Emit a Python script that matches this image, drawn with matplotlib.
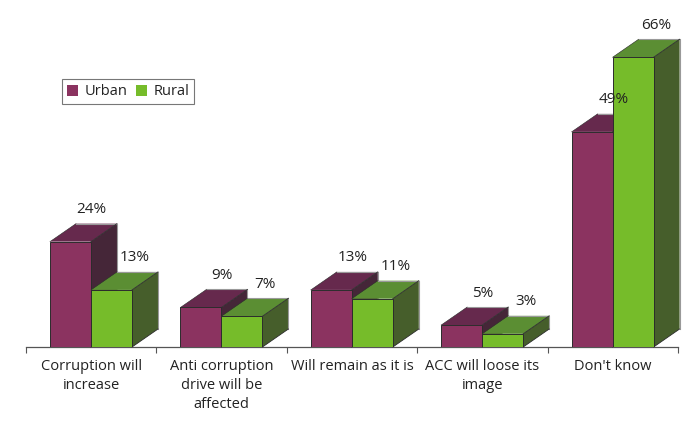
import matplotlib
matplotlib.use("Agg")
import matplotlib.pyplot as plt
from matplotlib.patches import Patch, Polygon

categories = ["Corruption will\nincrease", "Anti corruption\ndrive will be\naffected",
              "Will remain as it is", "ACC will loose its\nimage", "Don't know"]
urban = [24, 9, 13, 5, 49]
rural = [13, 7, 11, 3, 66]

URBAN_COLORS = ("#8b3360", "#66294d", "#452638")
RURAL_COLORS = ("#76bc2a", "#5b8e33", "#465e2b")
EDGE = "#2b2b2b"
BACK_EDGE = "#999999"
TEXT = "#222222"

# depth of the fake 3d extrusion, in data units
DX = 26 / 130.4
DY = 18 / 4.39
BAR_W = 41 / 130.4
START = 24 / 130.4


def draw_bar(ax, left, value, colors, z):
    """Draw the side and top faces, then the front face with bar()."""
    right = left + BAR_W
    side = [(right, 0), (right + DX, DY), (right + DX, value + DY), (right, value)]
    top = [(left, value), (left + DX, value + DY), (right + DX, value + DY), (right, value)]
    ax.add_patch(Polygon(side, closed=True, fc=colors[2], ec="none", clip_on=False, zorder=z))
    ax.add_patch(Polygon(top, closed=True, fc=colors[1], ec="none", clip_on=False, zorder=z))
    # back edges are pale, the ones toward the viewer are dark
    ax.plot([left + DX, right + DX, right + DX], [value + DY, value + DY, DY],
            color=BACK_EDGE, lw=0.8, clip_on=False, zorder=z + 0.1)
    ax.plot([right, right + DX], [value, value + DY], color=EDGE, lw=0.6, clip_on=False, zorder=z + 0.1)
    ax.plot([left, left + DX], [value, value + DY], color=EDGE, lw=0.4, clip_on=False, zorder=z + 0.1)
    ax.plot([right, right + DX], [0, DY], color=EDGE, lw=0.6, clip_on=False, zorder=z + 0.1)
    ax.bar(left, value, BAR_W, align="edge", color=colors[0], edgecolor=EDGE, lw=0.7, zorder=z + 0.2)


def main():
    plt.rcParams["font.family"] = ["Open Sans", "DejaVu Sans"]
    fig = plt.figure(figsize=(6.98, 4.30), dpi=100)
    ax = fig.add_axes([26 / 698, 1 - 347 / 430, 652 / 698, 347 / 430])

    for i in range(len(categories)):
        draw_bar(ax, i + START, urban[i], URBAN_COLORS, 3)
        draw_bar(ax, i + START + BAR_W, rural[i], RURAL_COLORS, 4)

    for i in range(len(categories)):
        ax.annotate(f"{urban[i]}%", (i + START + BAR_W, urban[i]), xytext=(0.5, 23),
                    textcoords="offset points", ha="center", va="center",
                    fontsize=11, color=TEXT, zorder=10)
        ax.annotate(f"{rural[i]}%", (i + START + 2 * BAR_W, rural[i]), xytext=(2, 23),
                    textcoords="offset points", ha="center", va="center",
                    fontsize=11, color=TEXT, zorder=10)

    ax.set_xlim(0, len(categories))
    ax.set_ylim(0, 347 / 4.39)
    ax.patch.set_alpha(0)
    for name in ("top", "left", "right"):
        ax.spines[name].set_visible(False)
    ax.spines["bottom"].set_color("#555555")
    ax.spines["bottom"].set_linewidth(0.9)
    ax.set_yticks([])
    ax.set_xticks(range(len(categories) + 1))
    ax.set_xticklabels([])
    ax.set_xticks([i + 0.5 for i in range(len(categories))], minor=True)
    ax.set_xticklabels(categories, minor=True, fontsize=10.5, color=TEXT, linespacing=1.35)
    ax.tick_params(axis="x", which="major", length=4, width=0.8, color="#555555")
    ax.tick_params(axis="x", which="minor", length=0, pad=8.5)

    handles = [Patch(fc=URBAN_COLORS[0], ec="none", label="Urban"),
               Patch(fc=RURAL_COLORS[0], ec="none", label="Rural")]
    leg = ax.legend(handles=handles, ncol=2, loc="upper left",
                    bbox_to_anchor=(36 / 652, 1 - 79 / 347), fontsize=10.5,
                    fancybox=False, framealpha=1, edgecolor="#777777",
                    handlelength=0.78, handleheight=0.78, handletextpad=0.4,
                    columnspacing=0.6, borderaxespad=0, borderpad=0.35)
    leg.get_frame().set_linewidth(0.8)
    leg.set_zorder(20)
    for t in leg.get_texts():
        t.set_color(TEXT)

    fig.savefig("out.png", dpi=100)


if __name__ == "__main__":
    main()
